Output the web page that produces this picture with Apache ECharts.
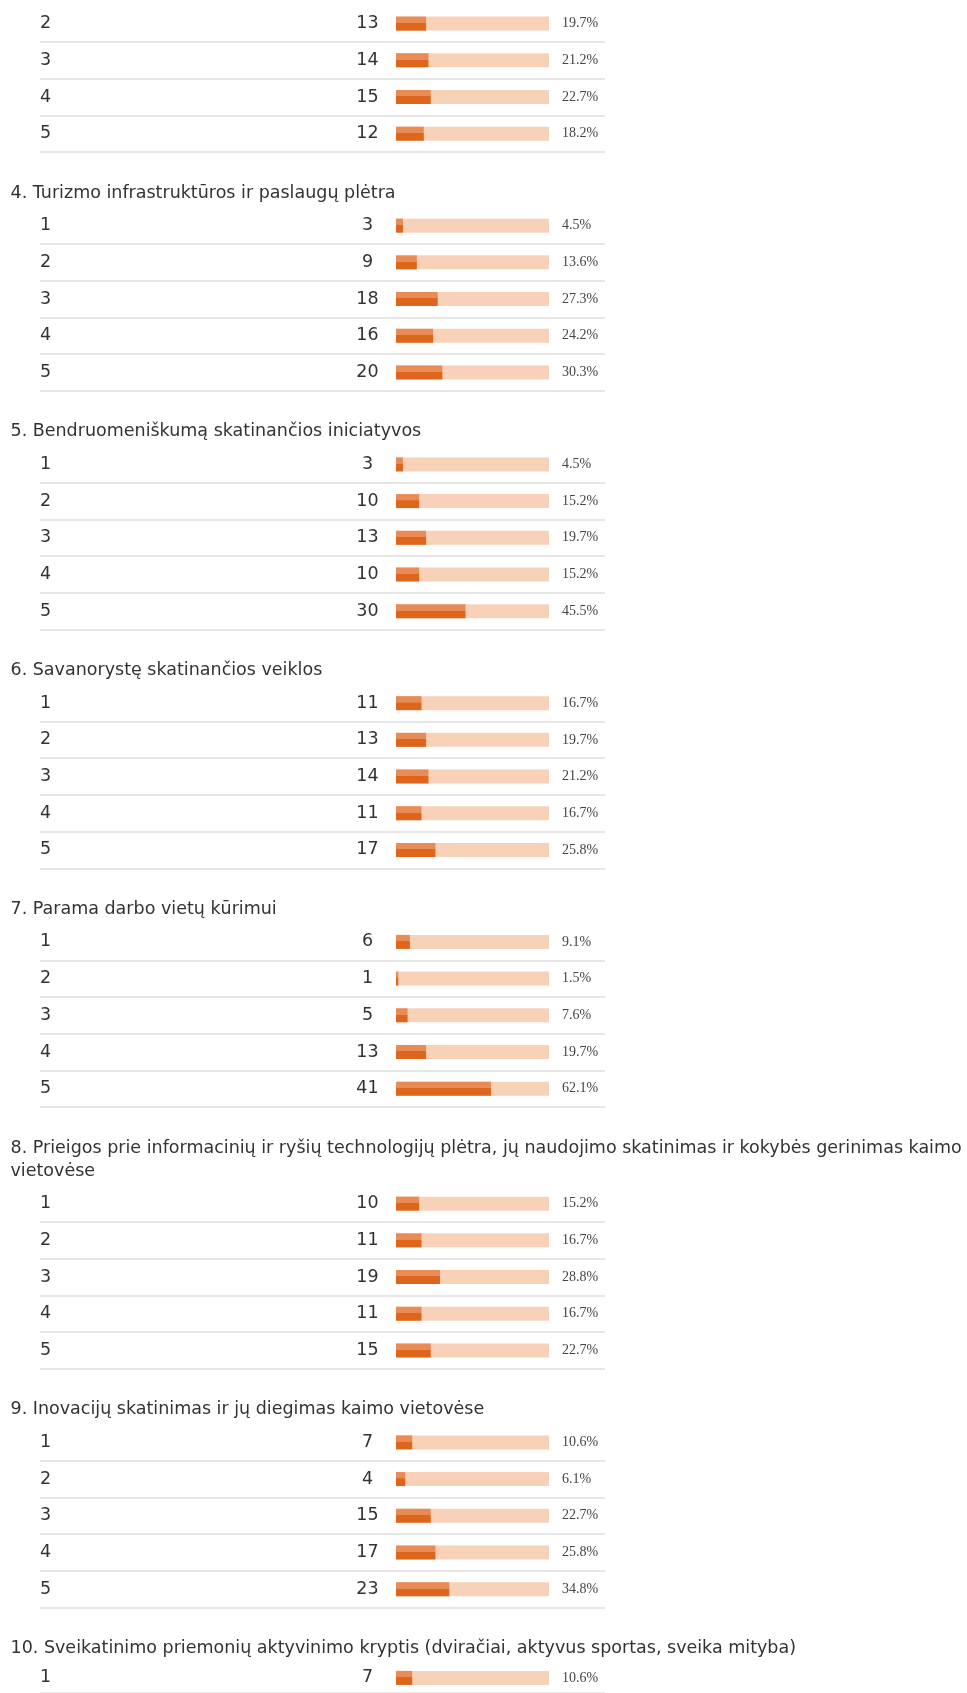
<!DOCTYPE html>
<html><head><meta http-equiv="Content-Type" content="text/html; charset=UTF-8">
    <title>Apklausos rezultatai</title>
    <script src="https://cdn.jsdelivr.net/npm/echarts@6.0.0/dist/echarts.min.js"></script>
    <style>
        *{
            padding: 0;
            margin: 0;
        }
        html, body{
            width: 967px;
            height: 1693px;
            background: #fff;
        }
        #chart{
            width: 967px;
            height: 1693px;
        }
    </style>
</head>
<body>
<div id="chart"></div>
<script>
    // atsakymu skaicius is viso
    var TOTAL = 66;

    // klausimu pavadinimai (pirmasis - nukirptas virsuje)
    var titles = [
        null,
        '4. Turizmo infrastruktūros ir paslaugų plėtra',
        '5. Bendruomeniškumą skatinančios iniciatyvos',
        '6. Savanorystę skatinančios veiklos',
        '7. Parama darbo vietų kūrimui',
        '8. Prieigos prie informacinių ir ryšių technologijų plėtra, jų naudojimo skatinimas ir kokybės gerinimas kaimo\nvietovėse',
        '9. Inovacijų skatinimas ir jų diegimas kaimo vietovėse',
        '10. Sveikatinimo priemonių aktyvinimo kryptis (dviračiai, aktyvus sportas, sveika mityba)'
    ];

    // vertinimu eilutes
    var labels3 = ['2', '3', '4', '5'];
    var labelsFull = ['1', '2', '3', '4', '5'];
    var labels10 = ['1'];

    // atsakymu skaiciai
    var counts3 = [13, 14, 15, 12];
    var counts4 = [3, 9, 18, 16, 20];
    var counts5 = [3, 10, 13, 10, 30];
    var counts6 = [11, 13, 14, 11, 17];
    var counts7 = [6, 1, 5, 13, 41];
    var counts8 = [10, 11, 19, 11, 15];
    var counts9 = [7, 4, 15, 17, 23];
    var counts10 = [7];

    var rowLabels = [labels3, labelsFull, labelsFull, labelsFull, labelsFull, labelsFull, labelsFull, labels10];
    var counts = [counts3, counts4, counts5, counts6, counts7, counts8, counts9, counts10];

    // isdestymas
    var ROW = 36.7;          // eilutes aukstis
    var SEP_TO_TITLE = 41;   // nuo paskutines linijos iki pavadinimo centro
    var TITLE_TO_ROW = 32.6; // nuo pavadinimo centro iki pirmos eilutes centro
    var LINE_H = 23;
    var GRID_LEFT = 40, GRID_RIGHT_X = 605;
    var BAR_X0 = 396, BAR_X1 = 549;
    var k = (BAR_X1 - BAR_X0) / TOTAL;
    var XMIN = -(BAR_X0 - GRID_LEFT) / k;
    var XMAX = TOTAL + (GRID_RIGHT_X - BAR_X1) / k;

    var FONT = '"DejaVu Sans", sans-serif';
    var FONT_SIZE = 17.5;

    function buildOption() {
        var grids = [], xAxes = [], yAxes = [], series = [], titleList = [];
        var firstRow = 23.6;
        for (var i = 0; i < counts.length; i++) {
            var n = counts[i].length;
            if (titles[i]) {
                var lines = titles[i].split('\n').length;
                var titleCenter = firstRow - TITLE_TO_ROW - (lines - 1) * LINE_H;
                titleList.push({
                    text: titles[i],
                    left: 10.5,
                    top: titleCenter - LINE_H / 2,
                    padding: 0,
                    textStyle: {fontFamily: FONT, fontSize: FONT_SIZE, fontWeight: 'normal', color: '#333', lineHeight: LINE_H}
                });
            }
            var gridTop = firstRow - ROW / 2;
            grids.push({left: GRID_LEFT, top: gridTop, width: GRID_RIGHT_X - GRID_LEFT, height: n * ROW});
            xAxes.push({gridIndex: i, type: 'value', min: XMIN, max: XMAX, show: false});
            yAxes.push({
                gridIndex: i, type: 'category', inverse: true, data: rowLabels[i],
                axisLine: {show: false}, axisTick: {show: false},
                axisLabel: {inside: true, margin: 0, interval: 0, fontFamily: FONT, fontSize: FONT_SIZE, color: '#333'},
                splitLine: {show: true, showMinLine: false, lineStyle: {color: '#dedede', width: 1.5}}
            });
            (function (cs, gi) {
                // fonine juosta (100 %)
                series.push({
                    type: 'bar', xAxisIndex: gi, yAxisIndex: gi,
                    data: cs.map(function () { return TOTAL; }),
                    barWidth: 14, barGap: '-100%', silent: true,
                    itemStyle: {color: '#f8d2b8'},
                    label: {
                        show: true, position: 'right', distance: 13,
                        fontFamily: '"Liberation Serif", serif', fontSize: 14, color: '#444',
                        formatter: function (p) { return (cs[p.dataIndex] / TOTAL * 100).toFixed(1) + '%'; }
                    }
                });
                // atsakymu juosta
                series.push({
                    type: 'bar', xAxisIndex: gi, yAxisIndex: gi,
                    data: cs, barWidth: 14, silent: true,
                    itemStyle: {color: {type: 'linear', x: 0, y: 0, x2: 0, y2: 1, colorStops: [
                        {offset: 0, color: '#e98b55'}, {offset: 0.45, color: '#e98b55'},
                        {offset: 0.46, color: '#dd661c'}, {offset: 1, color: '#dd661c'}]}},
                    label: {
                        show: true, position: [-28.5, '50%'], align: 'center', verticalAlign: 'middle',
                        fontFamily: FONT, fontSize: FONT_SIZE, color: '#333',
                        formatter: function (p) { return String(cs[p.dataIndex]); }
                    }
                });
            })(counts[i], i);
            var lastRow = firstRow + (n - 1) * ROW;
            firstRow = lastRow + ROW / 2 + SEP_TO_TITLE + TITLE_TO_ROW;
            if (titles[i + 1]) firstRow += (titles[i + 1].split('\n').length - 1) * LINE_H;
        }
        return {
            animation: false,
            title: titleList,
            grid: grids,
            xAxis: xAxes,
            yAxis: yAxes,
            series: series
        };
    }

    var myChart = echarts.init(document.getElementById('chart'));
    myChart.setOption(buildOption());
</script>
</body></html>
